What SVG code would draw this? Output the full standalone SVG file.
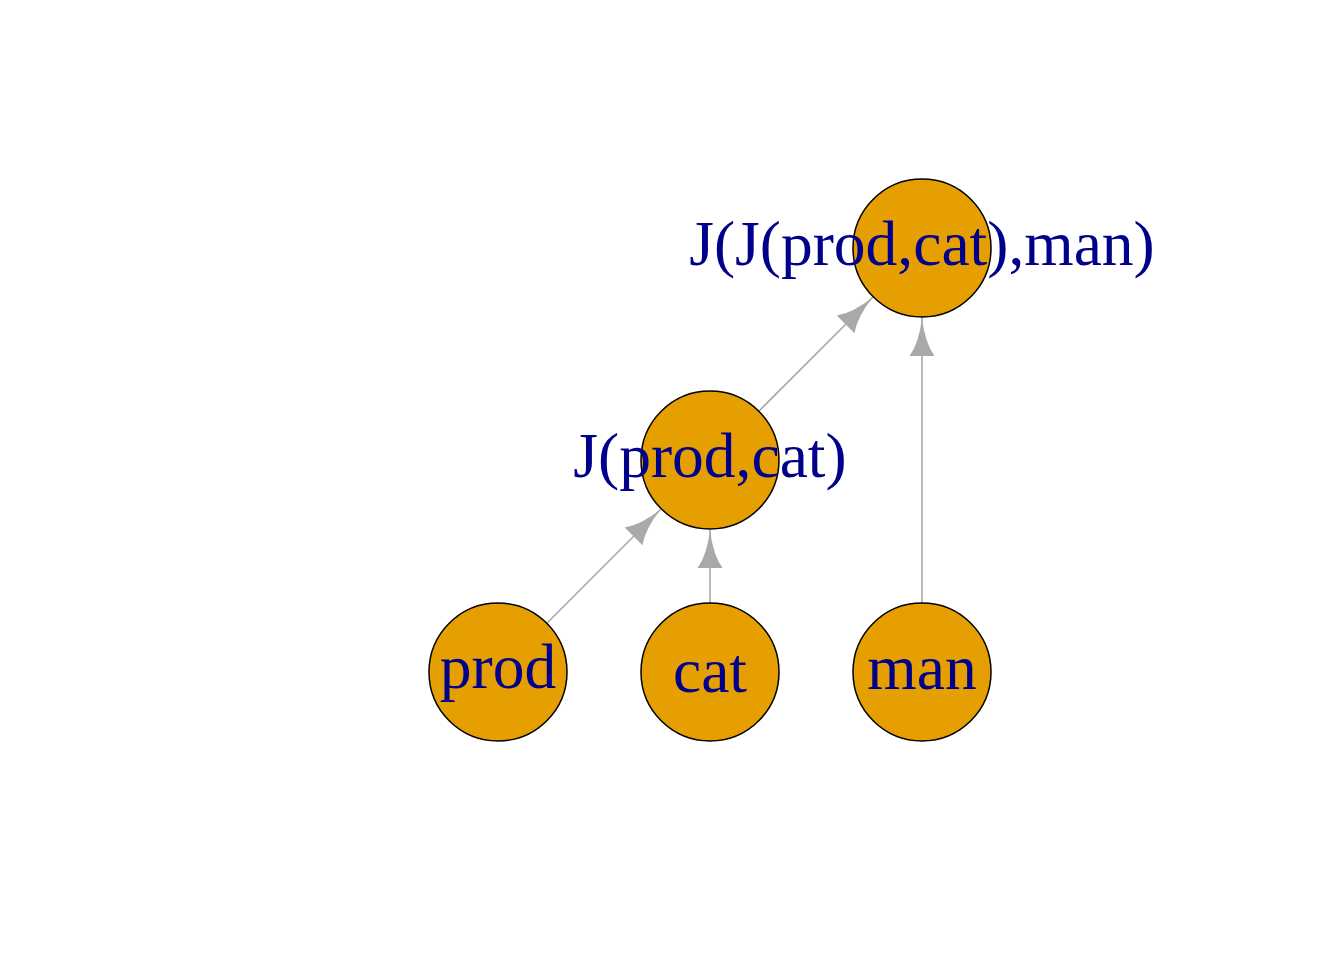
<svg xmlns="http://www.w3.org/2000/svg" width="1344" height="960" viewBox="0 0 1344 960">
<style>
  .node { fill: #E69F00; stroke: #000000; stroke-width: 1.5; }
  .lbl { font-family: "Liberation Serif", "Times New Roman", serif; font-size: 63.5px; fill: #00008B; text-anchor: middle; }
  .edge { stroke: #A9A9A9; stroke-width: 1.6; fill: none; marker-end: url(#arr); }
</style>
<defs>
  <marker id="arr" markerUnits="userSpaceOnUse" markerWidth="42" markerHeight="28" viewBox="-40 -14 42 28" refX="0" refY="0" orient="auto" overflow="visible">
    <path d="M0,0 Q-25,-3 -38,-12.5 L-38,12.5 Q-25,3 0,0 Z" fill="#A9A9A9"/>
  </marker>
</defs>
<rect width="1344" height="960" fill="#FFFFFF"/>
<g id="connectors">
  <line class="edge" x1="546.8" y1="623.2" x2="660.5" y2="509.5"/>
  <line class="edge" x1="710" y1="603" x2="710" y2="530"/>
  <line class="edge" x1="758.8" y1="411.2" x2="872.5" y2="297.5"/>
  <line class="edge" x1="922" y1="603" x2="922" y2="318"/>
</g>
<g id="node-prod">
  <circle class="node" cx="498" cy="672" r="69"/>
  <text class="lbl" x="498" y="688">prod</text>
</g>
<g id="node-cat">
  <circle class="node" cx="710" cy="672" r="69"/>
  <text class="lbl" x="710" y="692">cat</text>
</g>
<g id="node-man">
  <circle class="node" cx="922" cy="672" r="69"/>
  <text class="lbl" x="922" y="689">man</text>
</g>
<g id="node-J-prod-cat">
  <circle class="node" cx="710" cy="460" r="69"/>
  <text class="lbl" x="710" y="477">J(prod,cat)</text>
</g>
<g id="node-J-J-man">
  <circle class="node" cx="922" cy="248" r="69"/>
  <text class="lbl" x="922" y="265">J(J(prod,cat),man)</text>
</g>
</svg>
